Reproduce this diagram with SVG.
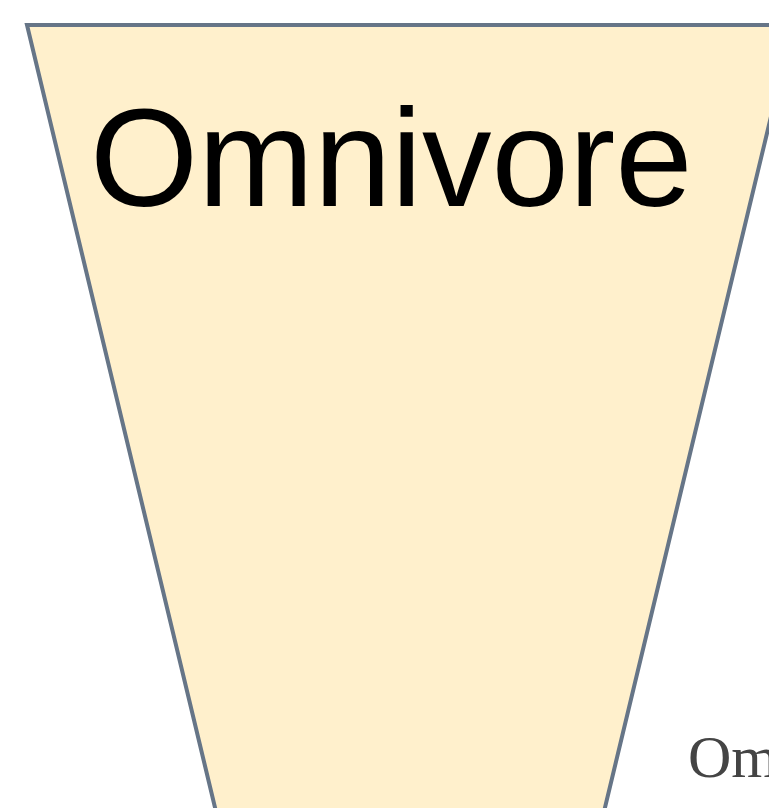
<svg xmlns="http://www.w3.org/2000/svg" width="769" height="808" viewBox="0 0 769 808">
<style>
.shape{fill:#FFF0CC;stroke:#667587;stroke-width:4;stroke-linejoin:miter}
.title{font-family:"Liberation Sans",Arial,sans-serif;font-size:139px;fill:#000}
.label{font-family:"Liberation Serif","Times New Roman",serif;font-size:60px;fill:#444}
</style>
<rect width="769" height="808" fill="#fff"/>
<g id="omnivore-level">
<polygon class="shape" points="27,25 793,25 602,820 218,820"/>
<text class="title" x="90" y="206">Omnivore</text>
</g>
<g id="omnivore-label">
<text class="label" x="688" y="777">Omnivore</text>
</g>
<g id="connectors"></g>
</svg>
